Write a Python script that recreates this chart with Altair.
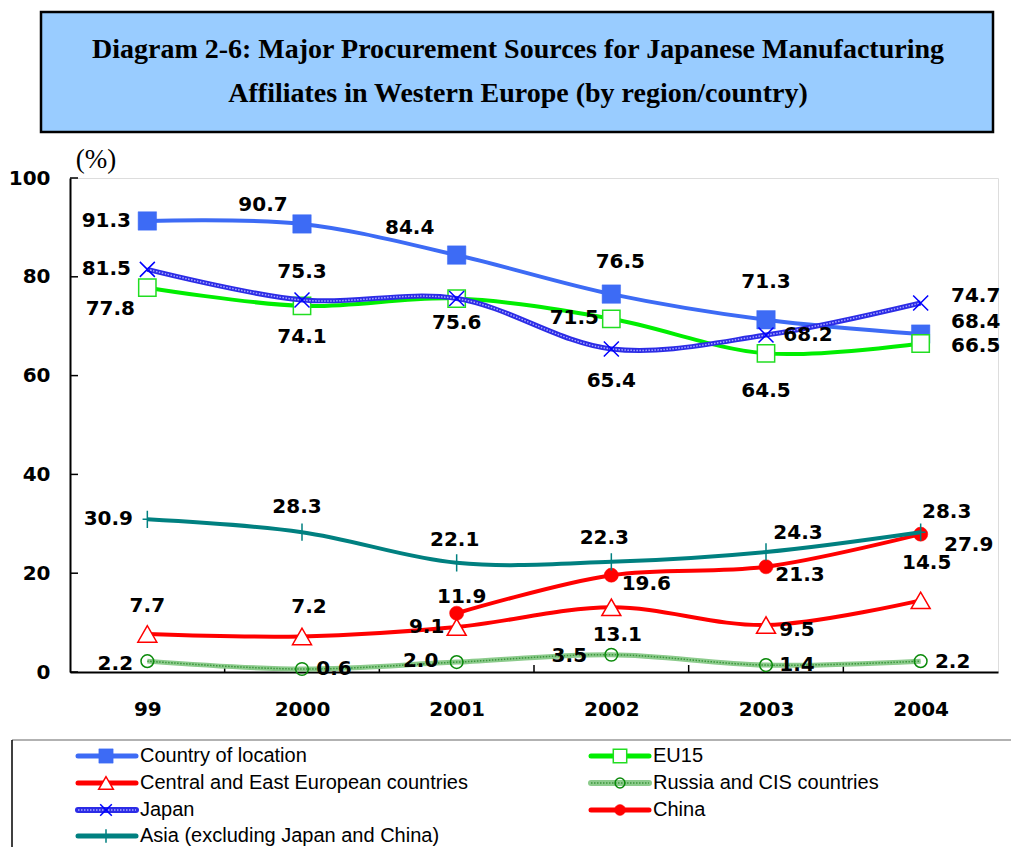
import json
import altair as alt
import pandas as pd

# ---------------- data ----------------
YEARS = ["99", "2000", "2001", "2002", "2003", "2004"]
Y_TICKS = [0, 20, 40, 60, 80, 100]

SERIES = [
    "Country of location",
    "EU15",
    "Central and East European countries",
    "Russia and CIS countries",
    "Japan",
    "China",
    "Asia (excluding Japan and China)",
]

COUNTRY = [91.3, 90.7, 84.4, 76.5, 71.3, 68.4]
EU15 = [77.8, 74.1, 75.6, 71.5, 64.5, 66.5]
CEE = [7.7, 7.2, 9.1, 13.1, 9.5, 14.5]
RUSSIA = [2.2, 0.6, 2.0, 3.5, 1.4, 2.2]
JAPAN = [81.5, 75.3, 75.6, 65.4, 68.2, 74.7]
CHINA = [None, None, 11.9, 19.6, 21.3, 27.9]
ASIA = [30.9, 28.3, 22.1, 22.3, 24.3, 28.3]

TITLE_LINES = [
    "Diagram 2-6: Major Procurement Sources for Japanese Manufacturing",
    "Affiliates in Western Europe (by region/country)",
]
UNIT = "(%)"

VALUES = dict(zip(SERIES, [COUNTRY, EU15, CEE, RUSSIA, JAPAN, CHINA, ASIA]))

rows = []
for s in SERIES:
    for i, v in enumerate(VALUES[s]):
        if v is None:
            continue
        rows.append({"series": s, "xi": i, "value": v, "label": f"{v:.1f}"})
df = pd.DataFrame(rows)
one = pd.DataFrame([{"k": 0}])

# ---------------- label placement (pixel offsets) ----------------
LABEL_OFFSETS = {
    "Country of location": [(-41, 0), (-39, -19), (-47, -27), (9, -32), (0, -38), (55, -12)],
    "EU15": [(-37, 21), (0, 31), (0, 24), (-37, -1), (0, 38), (55, 3)],
    "Central and East European countries": [(0, -28), (7, -29), (-30, 0), (6, 28), (31, 5), (6, -37)],
    "Russia and CIS countries": [(-32, 3), (32, 0), (-36, -1), (-42, 1), (31, 0), (32, 1)],
    "Japan": [(-41, 0), (0, -28), None, (0, 32), (42, 0), (55, -7)],
    "China": [None, None, (5, -16), (35, 9), (34, 8), (48, 11)],
    "Asia (excluding Japan and China)": [(-39, 0), (-5, -25), (-2, -23), (-7, -24), (32, -19), (26, -20)],
}

XPATH = "M-1,-1L1,1M1,-1L-1,1"
PLUS = "M0,-1L0,1M-0.55,0L0.55,0"

STYLE = {
    "Country of location": dict(color="#3D6BF5", width=4, shape="square", size=340,
                                fill="#3D6BF5", fo=1, stroke="#3D6BF5", sw=0.5),
    "EU15": dict(color="#00EE00", width=4, shape="square", size=300,
                 fill="white", fo=1, stroke="#22DD22", sw=1.5),
    "Central and East European countries": dict(color="#FF0000", width=4, shape="triangle-up", size=360,
                                                fill="white", fo=1, stroke="#FF0000", sw=1.5),
    "Russia and CIS countries": dict(color="#8CCB8C", width=5, shape="circle", size=160,
                                     fill="white", fo=0, stroke="#0A8A0A", sw=1.5,
                                     overlay="#3C963C"),
    "Japan": dict(color="#2C2CE6", width=5, shape=XPATH, size=225,
                  fill="white", fo=0, stroke="#0000FF", sw=1.5, overlay="#A8A8FF"),
    "China": dict(color="#FF0000", width=4, shape="circle", size=200,
                  fill="#FF0000", fo=1, stroke="#FF0000", sw=0.5),
    "Asia (excluding Japan and China)": dict(color="#008080", width=4, shape=PLUS, size=300,
                                             fill="white", fo=0, stroke="#008080", sw=1.5),
}

NUM_FONT = "DejaVu Sans"

# ---------------- scales / axes ----------------
xscale = alt.Scale(domain=[-0.5, len(YEARS) - 0.5], nice=False, zero=False)
yscale = alt.Scale(domain=[0, 100], nice=False)
label_expr = json.dumps(YEARS) + "[datum.value]"
xaxis = alt.Axis(values=list(range(len(YEARS))), labelExpr=label_expr, title=None,
                 grid=False, ticks=False, labelFont=NUM_FONT, labelFontSize=20,
                 labelFontWeight="bold", labelColor="black", labelPadding=27,
                 domainColor="black", domainWidth=2, labelFlush=False)
yaxis = alt.Axis(values=Y_TICKS, title=None, grid=False, ticks=False,
                 labelFont=NUM_FONT, labelFontSize=20, labelFontWeight="bold",
                 labelColor="black", labelPadding=20, domainColor="black", domainWidth=2)

X = alt.X("xi:Q", scale=xscale, axis=xaxis)
Y = alt.Y("value:Q", scale=yscale, axis=yaxis)

layers = []

# title box
layers.append(alt.Chart(one).mark_rect(fill="#99CCFF", stroke="black", strokeWidth=2.5).encode(
    x=alt.value(-29), x2=alt.value(923), y=alt.value(-166), y2=alt.value(-46)))
for j, line in enumerate(TITLE_LINES):
    layers.append(alt.Chart(one).mark_text(
        text=line, font="Liberation Serif", fontSize=28, fontWeight="bold",
        align="center", baseline="middle", color="black").encode(
        x=alt.value(448), y=alt.value(-128 + 44 * j)))

# unit label
layers.append(alt.Chart(one).mark_text(
    text=UNIT, font="Liberation Serif", fontSize=27, align="center", baseline="middle",
    color="black").encode(x=alt.value(26), y=alt.value(-18)))

# axes-defining invisible layer
layers.append(alt.Chart(df).mark_point(opacity=0).encode(x=X, y=Y))

# inward ticks
ytick_df = pd.DataFrame({"value": Y_TICKS})
layers.append(alt.Chart(ytick_df).mark_rule(color="black", strokeWidth=1.5).encode(
    y=alt.Y("value:Q", scale=yscale, axis=yaxis), x=alt.value(0), x2=alt.value(8)))
xb_df = pd.DataFrame({"xi": [i + 0.5 for i in range(len(YEARS) - 1)]})
layers.append(alt.Chart(xb_df).mark_rule(color="black", strokeWidth=1.5).encode(
    x=alt.X("xi:Q", scale=xscale, axis=xaxis), y=alt.value(494), y2=alt.value(487)))

# series
for s in SERIES:
    st = STYLE[s]
    base = alt.Chart(df).transform_filter(alt.datum.series == s)
    layers.append(base.mark_line(interpolate="catmull-rom", color=st["color"],
                                 strokeWidth=st["width"]).encode(x=X, y=Y))
    if "overlay" in st:
        layers.append(base.mark_line(interpolate="catmull-rom", color=st["overlay"],
                                     strokeWidth=1.5, strokeDash=[1.5, 1.5]).encode(x=X, y=Y))
    layers.append(base.mark_point(shape=st["shape"], size=st["size"], fill=st["fill"],
                                  fillOpacity=st["fo"], stroke=st["stroke"],
                                  strokeWidth=st["sw"], opacity=1).encode(x=X, y=Y))

# data labels
for s in SERIES:
    for i, off in enumerate(LABEL_OFFSETS[s]):
        if off is None or VALUES[s][i] is None:
            continue
        dx, dy = off
        layers.append(alt.Chart(df).transform_filter(
            (alt.datum.series == s) & (alt.datum.xi == i)).mark_text(
            dx=dx, dy=dy, font=NUM_FONT, fontSize=20, fontWeight="bold",
            align="center", baseline="middle", color="black").encode(
            x=X, y=Y, text="label:N"))

# legend box
layers.append(alt.Chart(one).mark_rule(color="#999999", strokeWidth=1.5).encode(
    x=alt.value(-58), x2=alt.value(960), y=alt.value(562)))
layers.append(alt.Chart(one).mark_rule(color="black", strokeWidth=1.5).encode(
    x=alt.value(-58), y=alt.value(562), y2=alt.value(700)))

LEG_ROWS = [578, 605, 632, 658]
LEG_COLS = [(8, 66, 36, 70), (521, 579, 550, 583)]
for k, s in enumerate(SERIES):
    st = STYLE[s]
    x1, x2, xm, xt = LEG_COLS[k % 2]
    yy = LEG_ROWS[k // 2]
    layers.append(alt.Chart(one).mark_rule(color=st["color"], strokeWidth=st["width"] + 1,
                                           strokeCap="round").encode(
        x=alt.value(x1), x2=alt.value(x2), y=alt.value(yy)))
    if "overlay" in st:
        layers.append(alt.Chart(one).mark_rule(color=st["overlay"], strokeWidth=1.5,
                                               strokeDash=[1.5, 1.5]).encode(
            x=alt.value(x1), x2=alt.value(x2), y=alt.value(yy)))
    layers.append(alt.Chart(one).mark_point(shape=st["shape"], size=st["size"] * 0.6,
                                            fill=st["fill"], fillOpacity=st["fo"],
                                            stroke=st["stroke"], strokeWidth=st["sw"],
                                            opacity=1).encode(
        x=alt.value(xm), y=alt.value(yy)))
    layers.append(alt.Chart(one).mark_text(text=s, font="Liberation Sans", fontSize=20,
                                           align="left", baseline="middle",
                                           color="black").encode(
        x=alt.value(xt), y=alt.value(yy)))

chart = alt.layer(*layers).properties(
    width=928, height=494,
    autosize=alt.AutoSizeParams(type="none"),
    padding={"left": 62, "top": 170, "right": 13, "bottom": 175},
).configure_view(stroke="#555555", strokeWidth=1.5).configure(background="white")

chart.save("out.html", embed_options={"renderer": "svg", "actions": False})
